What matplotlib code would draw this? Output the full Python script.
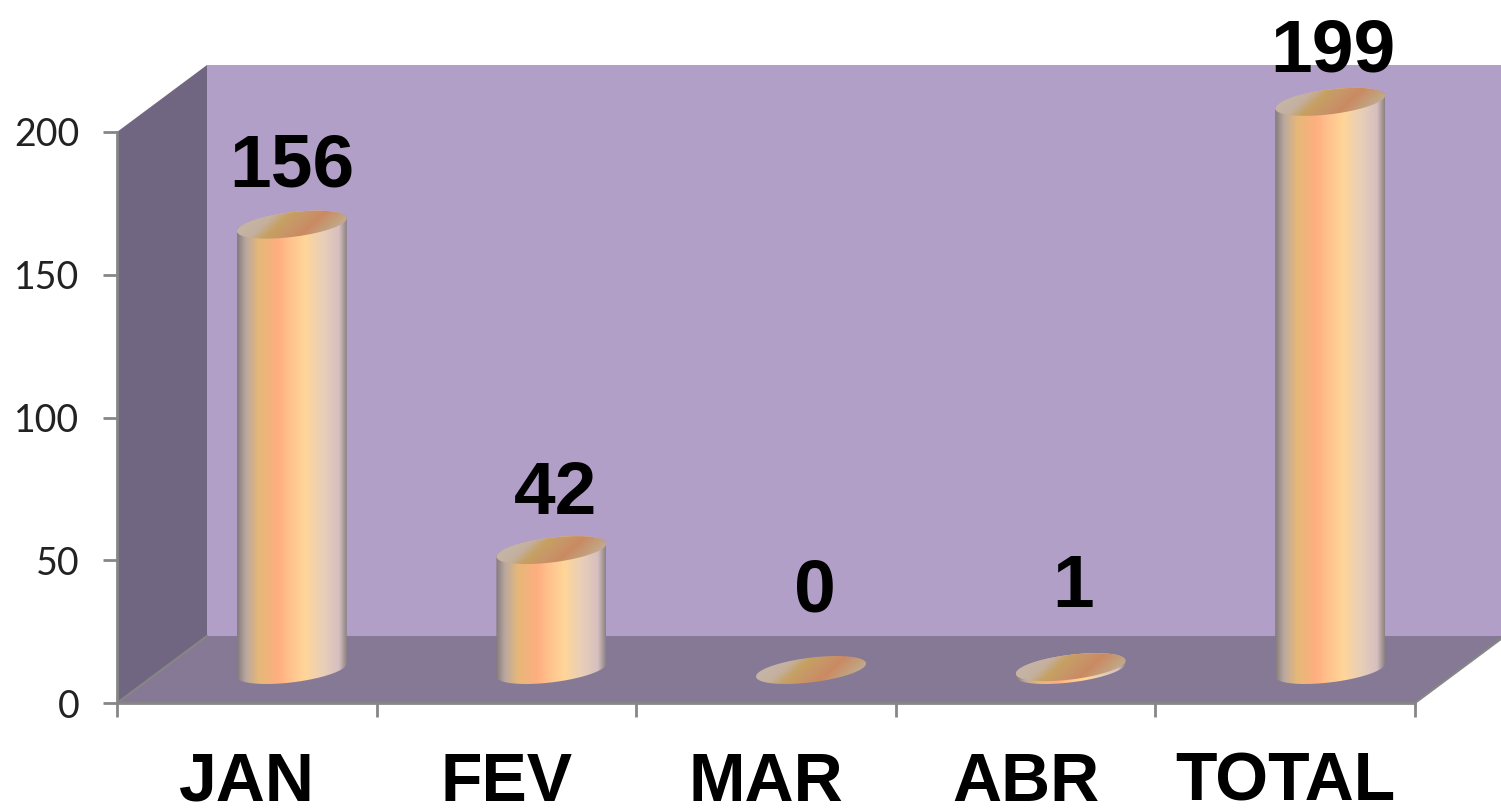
import numpy as np
import matplotlib
matplotlib.use("Agg")
import matplotlib.pyplot as plt
from matplotlib.colors import LinearSegmentedColormap
from matplotlib.patches import Polygon

categories = ["JAN", "FEV", "MAR", "ABR", "TOTAL"]
values = [156, 42, 0, 1, 199]
y_ticks = [0, 50, 100, 150, 200]

W, H = 1501, 808
fig = plt.figure(figsize=(W / 100, H / 100), dpi=100, facecolor="white")
# axes box is the front plane of the 3D chart
ax = fig.add_axes([117 / W, 1 - 703 / H, (1415 - 117) / W, (703 - 132) / H])
ax.patch.set_alpha(0)
n = len(categories)
xlim = (-0.5, n - 0.5)
ylim = (0, 200)
px_x = (1415 - 117) / n   # pixels per category
px_y = (703 - 132) / 200  # pixels per unit


def dx(p):
    return p / px_x


def dy(p):
    return p / px_y


# depth of the box and of the bars, in pixels
depth_x, depth_y = 90, 67
bar_x, bar_y = 45, 33
grey = "#868686"


def shape(pts, color, z=1):
    p = Polygon(pts, closed=True, facecolor=color, edgecolor="none", clip_on=False, zorder=z)
    ax.add_patch(p)
    return p


x0, x1 = xlim
y0, y1 = ylim
bx0, bx1 = x0 + dx(depth_x), x1 + dx(depth_x)
by0, by1 = y0 + dy(depth_y), y1 + dy(depth_y)
shape([(bx0, by0), (bx1, by0), (bx1, by1), (bx0, by1)], "#b29fc7")
shape([(x0, y0), (bx0, by0), (bx0, by1), (x0, y1)], "#716682")
shape([(x0, y0), (x1, y0), (bx1, by0), (bx0, by0)], "#857995")
ax.plot([x0, bx0], [y0, by0], color=grey, lw=1.5, clip_on=False, zorder=2)
ax.plot([x1, bx1], [y0, by0], color=grey, lw=1.5, clip_on=False, zorder=2)

side_cmap = LinearSegmentedColormap.from_list("side", [
    (0.0, "#857b7b"), (0.08, "#b9a8a0"), (0.2, "#e6b878"), (0.38, "#ffae80"),
    (0.47, "#ffc08c"), (0.62, "#ffd598"), (0.78, "#e9cfb8"), (0.93, "#d6bfbf"), (1.0, "#8c8282")])
top_cmap = LinearSegmentedColormap.from_list("top", [
    (0.0, "#c6b6aa"), (0.24, "#c4b09e"), (0.38, "#c6a062"), (0.55, "#c89468"),
    (0.68, "#ca8a62"), (0.86, "#c2a07c"), (1.0, "#c4ae96")])

a, b, s = 55, 12.4, 0.118
t_low = np.linspace(np.pi, 2 * np.pi, 60)
t_up = np.linspace(0, np.pi, 60)


def rim(t, xc, yc):
    ex = a * np.cos(t)
    ey = b * np.sin(t) + s * ex
    return np.column_stack([xc + dx(ex), yc + dy(ey)])


u = np.linspace(0, 1, 256)
for i, v in enumerate(values):
    xc = i + dx(bar_x)
    yb = dy(bar_y)
    yt = v + yb
    # cylinder side
    if v > 0:
        pts = np.vstack([rim(t_low, xc, yb), rim(t_up, xc, yt)])
        clip = Polygon(pts, closed=True, transform=ax.transData)
        im = ax.imshow(u[None, :], cmap=side_cmap, vmin=0, vmax=1, aspect="auto", origin="lower",
                       extent=(xc - dx(a), xc + dx(a), yb - dy(20), yt + dy(20)), zorder=3)
        im.set_clip_box(fig.bbox)
        im.set_clip_path(clip)
    # cylinder cap with the slanted shine
    gx, gy = np.meshgrid(np.linspace(-a, a, 220), np.linspace(-16, 16, 64))
    cap = (gx - 1.1 * gy + a) / (2 * a)
    clip = Polygon(np.vstack([rim(t_low, xc, yt), rim(t_up, xc, yt)]), closed=True, transform=ax.transData)
    im = ax.imshow(np.clip(cap, 0, 1), cmap=top_cmap, vmin=0, vmax=1, aspect="auto", origin="lower",
                   extent=(xc - dx(a), xc + dx(a), yt - dy(16), yt + dy(16)), zorder=4)
    im.set_clip_box(fig.bbox)
    im.set_clip_path(clip)

# lift of each value label above its cap, and shift to the right, in pixels
label_lift = [38, 36, 58, 60, 30]
label_shift = [0, 4, 4, 3, 3]
for i, v in enumerate(values):
    ax.text(i + dx(bar_x + label_shift[i]), v + dy(bar_y) + dy(label_lift[i]), str(v), ha="center", va="baseline",
            fontsize=54, fontweight="bold", family="Liberation Sans", color="black", zorder=6, clip_on=False)

ax.set_xlim(xlim)
ax.set_ylim(ylim)
for side in ["top", "right"]:
    ax.spines[side].set_visible(False)
for side in ["left", "bottom"]:
    ax.spines[side].set_color(grey)
    ax.spines[side].set_linewidth(2)
    ax.spines[side].set_zorder(5)

ax.set_yticks(y_ticks)
ax.set_yticklabels([str(t) for t in y_ticks], family="Lato", fontsize=27, color="#222222")
ax.tick_params(axis="y", length=10, width=2, color=grey, pad=17)
ax.set_xticks(range(n))
ax.set_xticklabels(categories, family="Liberation Sans", fontweight="bold", fontsize=49, color="black")
ax.tick_params(axis="x", which="major", length=0, pad=34.5)
ax.set_xticks(np.arange(n + 1) - 0.5, minor=True)
ax.tick_params(axis="x", which="minor", length=10, width=2, color=grey)

fig.savefig("out.png", dpi=100)
